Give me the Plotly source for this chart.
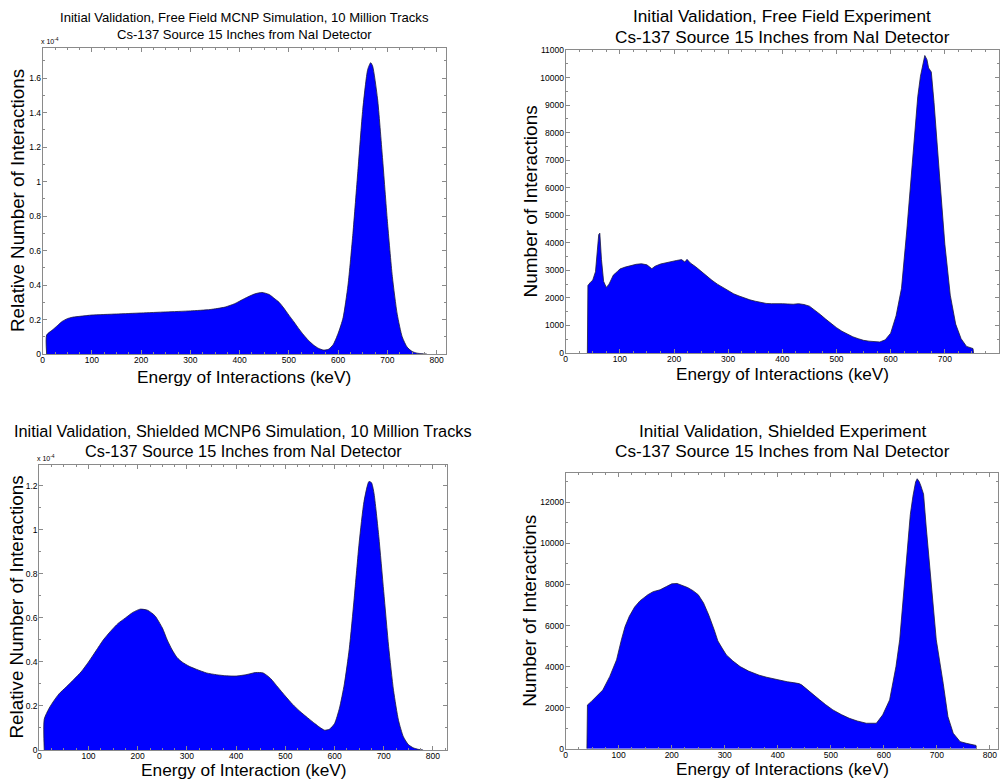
import plotly.graph_objects as go

# ---------------- data ----------------
# Panel 1: Free field MCNP simulation (relative, units of 1e-4)
ff_sim_E = [8, 8.01, 20, 30, 40, 50, 60, 80, 100, 150, 200, 250, 300, 340, 370, 390, 410, 430, 445,
            460, 470, 480, 490, 500, 510, 520, 530, 540, 550, 560, 570, 580, 590, 600, 610, 620,
            630, 640, 650, 660, 666, 670, 680, 690, 700, 710, 720, 730, 740, 750, 760, 770, 780]
ff_sim_y = [0, 0.11, 0.14, 0.165, 0.19, 0.205, 0.213, 0.22, 0.226, 0.232, 0.238, 0.244, 0.25, 0.258,
            0.272, 0.292, 0.322, 0.348, 0.357, 0.345, 0.323, 0.30, 0.265, 0.225, 0.187, 0.147, 0.11,
            0.078, 0.052, 0.033, 0.023, 0.027, 0.055, 0.12, 0.21, 0.40, 0.70, 1.06, 1.42, 1.65, 1.69,
            1.67, 1.48, 1.14, 0.77, 0.45, 0.23, 0.10, 0.04, 0.015, 0.005, 0.002, 0]

# Panel 2: Free field experiment (counts)
ff_exp_E = [40, 41, 45, 50, 55, 58, 61, 63, 66, 70, 75, 80, 88, 95, 100, 110, 120, 130, 140, 150,
            159, 165, 175, 185, 195, 205, 214, 220, 224, 230, 240, 250, 260, 270, 280, 290, 300,
            310, 320, 330, 340, 350, 360, 370, 380, 390, 400, 410, 420, 430, 440, 450, 460, 470,
            480, 490, 500, 510, 520, 530, 540, 550, 560, 570, 580, 590, 600, 610, 620, 630, 640,
            650, 655, 660, 663, 667, 670, 675, 680, 690, 700, 710, 720, 730, 740, 750, 752, 753]
ff_exp_y = [0, 2450, 2550, 2650, 2950, 3500, 4300, 4350, 3400, 2600, 2380, 2500, 2830, 2950, 3050,
            3120, 3180, 3220, 3240, 3200, 3060, 3150, 3230, 3280, 3330, 3360, 3390, 3300, 3400,
            3270, 3130, 2960, 2800, 2640, 2500, 2380, 2260, 2150, 2070, 1990, 1930, 1880, 1830,
            1800, 1790, 1800, 1790, 1780, 1770, 1790, 1760, 1700, 1560, 1400, 1230, 1070, 920, 790,
            680, 590, 520, 460, 430, 410, 400, 480, 720, 1350, 2350, 4500, 7000, 9300, 10050,
            10600, 10800, 10650, 10350, 10200, 9100, 6500, 3950, 2100, 1050, 520, 240, 175, 160, 0]

# Panel 3: Shielded MCNP6 simulation (relative, units of 1e-4)
sh_sim_E = [10, 10.01, 20, 30, 40, 55, 70, 85, 100, 115, 130, 145, 160, 175, 190, 205, 220, 235, 250,
            260, 270, 280, 290, 305, 320, 340, 360, 380, 400, 420, 440, 455, 470, 485, 500, 515,
            530, 545, 560, 570, 580, 590, 600, 610, 620, 630, 640, 650, 660, 670, 675, 680, 690,
            700, 710, 720, 730, 740, 750, 760, 770, 780]
sh_sim_y = [0, 0.14, 0.19, 0.225, 0.255, 0.287, 0.32, 0.355, 0.40, 0.45, 0.50, 0.54, 0.575, 0.60,
            0.625, 0.64, 0.635, 0.61, 0.555, 0.50, 0.455, 0.42, 0.40, 0.38, 0.366, 0.35, 0.342,
            0.337, 0.336, 0.342, 0.352, 0.35, 0.325, 0.285, 0.245, 0.207, 0.175, 0.147, 0.12,
            0.103, 0.09, 0.095, 0.12, 0.19, 0.30, 0.46, 0.69, 0.94, 1.13, 1.22, 1.215, 1.17, 0.97,
            0.72, 0.47, 0.27, 0.135, 0.06, 0.025, 0.01, 0.003, 0]

# Panel 4: Shielded experiment (counts)
sh_exp_E = [40, 41, 48, 58, 70, 83, 96, 105, 112, 120, 130, 140, 155, 165, 178, 190, 200, 210, 220,
            230, 240, 250, 260, 270, 280, 287, 295, 303, 315, 329, 345, 354, 365, 379, 395, 404,
            418, 429, 440, 445, 452, 461, 470, 479, 490, 504, 520, 535, 550, 567, 586, 598, 611,
            623, 630, 640, 650, 655, 660, 663, 667, 670, 675, 680, 690, 699, 712, 721, 731, 744,
            756, 769, 774, 775]
sh_exp_y = [0, 2130, 2290, 2540, 2860, 3510, 4330, 5300, 5950, 6450, 6900, 7200, 7500, 7650, 7740,
            7900, 8030, 8050, 7950, 7850, 7700, 7500, 7100, 6500, 5800, 5250, 4900, 4570, 4280,
            4000, 3780, 3680, 3580, 3480, 3380, 3320, 3260, 3220, 3170, 3110, 2950, 2780, 2580,
            2380, 2150, 1890, 1660, 1480, 1350, 1240, 1240, 1650, 2376, 4000, 5300, 8300, 11400,
            12300, 12990, 13150, 13000, 12800, 12400, 10800, 7810, 5300, 3190, 1560, 750, 344, 260,
            180, 160, 0]

titles = [
    ("Initial Validation, Free Field MCNP Simulation, 10 Million Tracks",
     "Cs-137 Source 15 Inches from NaI Detector"),
    ("Initial Validation, Free Field Experiment", "Cs-137 Source 15 Inches from NaI Detector"),
    ("Initial Validation, Shielded MCNP6 Simulation, 10 Million Tracks",
     "Cs-137 Source 15 Inches from NaI Detector"),
    ("Initial Validation, Shielded Experiment", "Cs-137 Source 15 Inches from NaI Detector"),
]
x_titles = ["Energy of Interactions (keV)", "Energy of Interactions (keV)",
            "Energy of Interaction (keV)", "Energy of Interactions (keV)"]
y_titles = ["Relative Number of Interactions", "Number of Interactions",
            "Relative Number of Interactions", "Number of Interactions"]

# ---------------- figure ----------------
W, H = 1005, 780
FONT = "Liberation Sans, Arial, sans-serif"
BLUE = "#0000FF"


def px(x):
    return x / W


def py(y):
    return 1 - y / H


fig = go.Figure()

series = [(ff_sim_E, ff_sim_y, "spline"), (ff_exp_E, ff_exp_y, "linear"),
          (sh_sim_E, sh_sim_y, "spline"), (sh_exp_E, sh_exp_y, "linear")]
for i, (xe, yv, shape) in enumerate(series):
    n = "" if i == 0 else str(i + 1)
    fig.add_trace(go.Scatter(
        x=xe, y=yv, mode="lines", fill="tozeroy", fillcolor=BLUE,
        line=dict(color="#1c1c3a", width=0.8, shape=shape, smoothing=0.6 if shape == "spline" else None),
        xaxis="x" + n, yaxis="y" + n, showlegend=False, hoverinfo="x+y"))

# panel geometry in pixels: (left, right, top, bottom)
boxes = [(42.7, 446, 48, 354), (565.7, 999, 50, 353), (39.3, 446.7, 465, 750), (565.7, 998.3, 473, 748.7)]
xranges = [[0, 819], [0, 800], [0, 828], [0, 816]]
yranges = [[0, 1.775], [0, 11000], [0, 1.295], [0, 13430]]
ydticks = [0.2, 1000, 0.2, 2000]
yminor = [0.1, 500, 0.1, 1000]
yfmt = ["", "d", "", "d"]

GRAY = "#8a8a8a"
layout = dict(width=W, height=H, margin=dict(l=0, r=0, t=0, b=0, autoexpand=False),
              paper_bgcolor="white", plot_bgcolor="white", showlegend=False,
              font=dict(family=FONT, color="#000000"))

for i, (l, r, t, b) in enumerate(boxes):
    n = "" if i == 0 else str(i + 1)
    common = dict(showline=True, linecolor=GRAY, linewidth=1, mirror="ticks", ticks="inside",
                  ticklen=4, tickcolor=GRAY, showgrid=False, zeroline=False, automargin=False,
                  tickfont=dict(size=8.5, family=FONT, color="#000000"))
    layout["xaxis" + n] = dict(common, domain=[px(l), px(r)], range=xranges[i], dtick=100, tick0=0,
                               anchor="y" + n, ticklabelstandoff=-2,
                               minor=dict(ticks="inside", ticklen=2, tickcolor=GRAY, dtick=25))
    layout["yaxis" + n] = dict(common, domain=[py(b), py(t)], range=yranges[i], dtick=ydticks[i],
                               tick0=0, tickformat=yfmt[i], anchor="x" + n, ticklabelstandoff=-1,
                               minor=dict(ticks="inside", ticklen=2, tickcolor=GRAY, dtick=yminor[i]))

fig.update_layout(**layout)

# titles and axis titles as annotations
title_sizes = [13.1, 17.2, 16.3, 17.2]
title_y = [(17, 35), (16, 37), (431, 451), (431, 451)]
title_x = [244, 782, 243, 782]
xt_y = [377, 374, 770, 769]
xt_x = [244, 782, 244, 782]
yt_x = [18, 530, 16, 530]
xt_sizes = [17.3, 17.2, 17.3, 17.2]
yt_sizes = [18.8, 19, 18.8, 19]

for i in range(4):
    l, r, t, b = boxes[i]
    for j in range(2):
        fig.add_annotation(text=titles[i][j], x=px(title_x[i]), y=py(title_y[i][j]), xref="paper",
                           yref="paper", showarrow=False, xanchor="center", yanchor="middle",
                           font=dict(size=title_sizes[i], family=FONT, color="#000000"))
    fig.add_annotation(text=x_titles[i], x=px(xt_x[i]), y=py(xt_y[i]), xref="paper", yref="paper",
                       showarrow=False, xanchor="center", yanchor="middle",
                       font=dict(size=xt_sizes[i], family=FONT, color="#000000"))
    fig.add_annotation(text=y_titles[i], x=px(yt_x[i]), y=py((t + b) / 2), xref="paper",
                       yref="paper", showarrow=False, xanchor="center", yanchor="middle",
                       textangle=-90, font=dict(size=yt_sizes[i], family=FONT, color="#000000"))

# x 10^-4 exponent labels for simulation panels
for i in (0, 2):
    l, r, t, b = boxes[i]
    fig.add_annotation(text="x 10<sup>-4</sup>", x=px(l - 4), y=py(t - 1), xref="paper",
                       yref="paper", showarrow=False, xanchor="left", yanchor="bottom",
                       font=dict(size=7, family=FONT, color="#000000"))

fig.write_html("out.html", config={"displayModeBar": False},
               post_script="document.body.style.margin='0';document.body.style.overflow='hidden';")
